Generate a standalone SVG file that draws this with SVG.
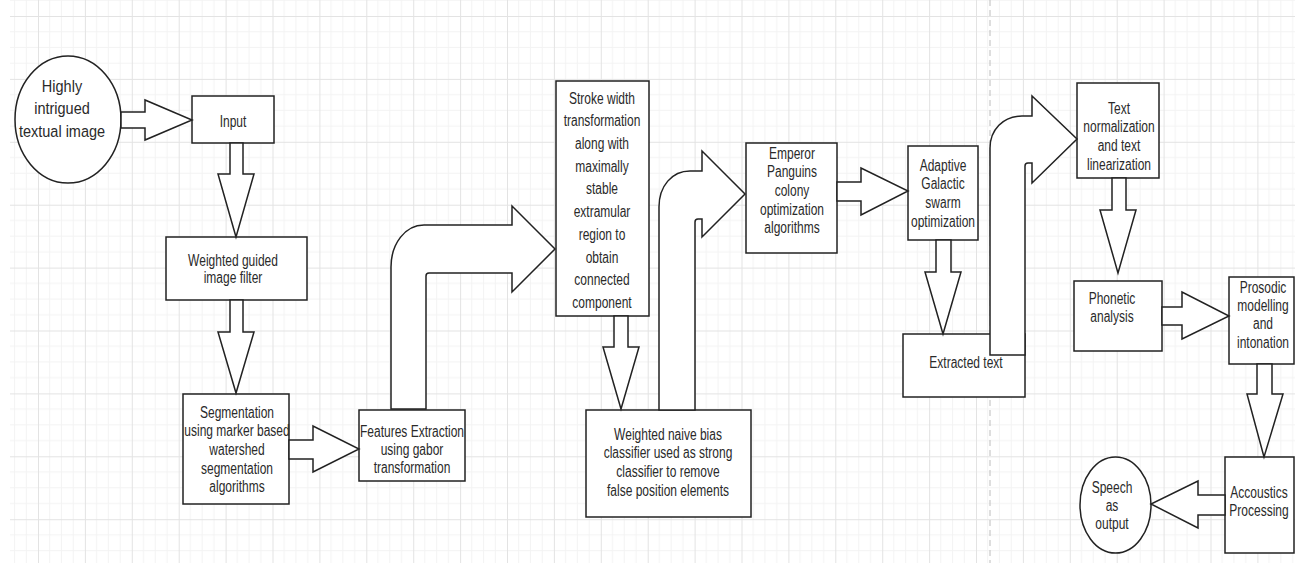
<svg xmlns="http://www.w3.org/2000/svg" width="1295" height="563" viewBox="0 0 1295 563">
<style>
.box{fill:#fff;stroke:#222;stroke-width:1.5}
.arr{fill:#fff;stroke:#222;stroke-width:1.5;stroke-linejoin:miter}
.t{font-family:"Liberation Sans",Arial,sans-serif;font-size:12px;fill:#2a2a2a;text-anchor:middle}
.tb{font-family:"Liberation Sans",Arial,sans-serif;font-size:14.5px;fill:#2a2a2a;text-anchor:middle}
</style>
<defs>
<pattern id="grid" patternUnits="userSpaceOnUse" x="38" y="16" width="46.9" height="62.9">
<path d="M11.7,0V62.9M23.45,0V62.9M35.2,0V62.9M0,15.7H46.9M0,31.45H46.9M0,47.2H46.9" stroke="#f3f3f3" stroke-width="1" fill="none"/>
<path d="M0.5,0V62.9M0,0.5H46.9" stroke="#e3e3e3" stroke-width="1" fill="none"/>
</pattern>
</defs>
<rect width="1295" height="563" fill="#fff"/>
<rect x="10" y="0" width="1285" height="563" fill="url(#grid)"/>
<line x1="990" y1="0" x2="990" y2="563" stroke="#bdbdbd" stroke-width="1" stroke-dasharray="6,4"/>

<g id="node-highly">
<ellipse class="box" cx="68" cy="119.5" rx="53" ry="63.5"/>
<text class="tb" transform="translate(62,92) scale(1,1.2)"><tspan x="0" dy="0">Highly</tspan><tspan x="0" dy="18.75">intrigued</tspan><tspan x="0" dy="18.75">textual image</tspan></text>
</g>
<g id="node-input">
<rect class="box" x="192" y="96" width="82" height="47"/>
<text class="t" transform="translate(233,126.5) scale(1,1.3)">Input</text>
</g>
<g id="node-weighted-guided">
<rect class="box" x="166" y="237" width="141" height="63"/>
<text class="t" transform="translate(233,265.5) scale(1,1.3)"><tspan x="0" dy="0">Weighted guided</tspan><tspan x="0" dy="13.85">image filter</tspan></text>
</g>
<g id="node-segmentation">
<rect class="box" x="183" y="394" width="106" height="110"/>
<text class="t" transform="translate(237,417.5) scale(1,1.3)"><tspan x="0" dy="0">Segmentation</tspan><tspan x="0" dy="14.4">using marker based</tspan><tspan x="0" dy="14.4">watershed</tspan><tspan x="0" dy="14.4">segmentation</tspan><tspan x="0" dy="14.4">algorithms</tspan></text>
</g>
<g id="node-features">
<rect class="box" x="359" y="410" width="106" height="71"/>
<text class="t" transform="translate(412,436.5) scale(1,1.3)"><tspan x="0" dy="0">Features Extraction</tspan><tspan x="0" dy="14.2">using gabor</tspan><tspan x="0" dy="14.2">transformation</tspan></text>
</g>
<g id="node-stroke">
<rect class="box" x="556" y="81" width="93" height="235"/>
<text class="t" transform="translate(602,103.5) scale(1,1.3)"><tspan x="0" dy="0">Stroke width</tspan><tspan x="0" dy="17.5">transformation</tspan><tspan x="0" dy="17.5">along with</tspan><tspan x="0" dy="17.5">maximally</tspan><tspan x="0" dy="17.5">stable</tspan><tspan x="0" dy="17.5">extramular</tspan><tspan x="0" dy="17.5">region to</tspan><tspan x="0" dy="17.5">obtain</tspan><tspan x="0" dy="17.5">connected</tspan><tspan x="0" dy="17.5">component</tspan></text>
</g>
<g id="node-naive">
<rect class="box" x="586" y="410" width="165" height="107"/>
<text class="t" transform="translate(668,439.5) scale(1,1.3)"><tspan x="0" dy="0">Weighted naive bias</tspan><tspan x="0" dy="14.6">classifier used as strong</tspan><tspan x="0" dy="14.6">classifier to remove</tspan><tspan x="0" dy="14.6">false position elements</tspan></text>
</g>
<g id="node-emperor">
<rect class="box" x="746" y="143" width="91" height="110"/>
<text class="t" transform="translate(792,158.5) scale(1,1.3)"><tspan x="0" dy="0">Emperor</tspan><tspan x="0" dy="14.4">Panguins</tspan><tspan x="0" dy="14.4">colony</tspan><tspan x="0" dy="14.4">optimization</tspan><tspan x="0" dy="14.4">algorithms</tspan></text>
</g>
<g id="node-adaptive">
<rect class="box" x="908" y="146" width="70" height="94"/>
<text class="t" transform="translate(943,170.5) scale(1,1.3)"><tspan x="0" dy="0">Adaptive</tspan><tspan x="0" dy="14.6">Galactic</tspan><tspan x="0" dy="14.6">swarm</tspan><tspan x="0" dy="14.6">optimization</tspan></text>
</g>
<g id="node-extracted">
<rect class="box" x="903" y="334" width="122" height="63"/>
<text class="t" transform="translate(966,367.5) scale(1,1.3)">Extracted text</text>
</g>
<g id="node-textnorm">
<rect class="box" x="1077" y="83" width="82" height="95"/>
<text class="t" transform="translate(1119,113.5) scale(1,1.3)"><tspan x="0" dy="0">Text</tspan><tspan x="0" dy="14.4">normalization</tspan><tspan x="0" dy="14.4">and text</tspan><tspan x="0" dy="14.4">linearization</tspan></text>
</g>
<g id="node-phonetic">
<rect class="box" x="1074" y="281" width="88" height="70"/>
<text class="t" transform="translate(1112,303.5) scale(1,1.3)"><tspan x="0" dy="0">Phonetic</tspan><tspan x="0" dy="14.6">analysis</tspan></text>
</g>
<g id="node-prosodic">
<rect class="box" x="1229" y="277" width="65" height="87"/>
<text class="t" transform="translate(1263,292.5) scale(1,1.3)"><tspan x="0" dy="0">Prosodic</tspan><tspan x="0" dy="14.2">modelling</tspan><tspan x="0" dy="14.2">and</tspan><tspan x="0" dy="14.2">intonation</tspan></text>
</g>
<g id="node-accoustics">
<rect class="box" x="1225" y="457" width="69" height="96"/>
<text class="t" transform="translate(1259,497.5) scale(1,1.3)"><tspan x="0" dy="0">Accoustics</tspan><tspan x="0" dy="14.6">Processing</tspan></text>
</g>
<g id="node-speech">
<ellipse class="box" cx="1115.5" cy="505" rx="35.5" ry="48"/>
<text class="t" transform="translate(1112,492.5) scale(1,1.3)"><tspan x="0" dy="0">Speech</tspan><tspan x="0" dy="14.2">as</tspan><tspan x="0" dy="14.2">output</tspan></text>
</g>

<g id="connectors">
<polygon class="arr" points="121,112 145,112 145,100 192,120 145,140 145,128 121,128"/>
<polygon class="arr" points="230,143 243,143 243,174 254,174 236,237 218,174 230,174"/>
<polygon class="arr" points="230,300 243,300 243,332 254,332 236,393 218,332 230,332"/>
<polygon class="arr" points="289,440 313,440 313,426 359,449 313,472 313,459 289,459"/>
<path class="arr" d="M391,409 V267 C391,244 405,225 424,225 H512 V206 L555,249 L512,292 V273 H429 Q426,273 426,276 V409 Z"/>
<polygon class="arr" points="614,316 628,316 628,347 639,347 621,409 603,347 614,347"/>
<path class="arr" d="M659,410 V207 C659,186 672,171 690,171 H702 V151 L745,194 L702,237 V219 H698 Q695,219 695,222 V410 Z"/>
<polygon class="arr" points="837,182 861,182 861,168 908,191 861,215 861,201 837,201"/>
<polygon class="arr" points="936,240 951,240 951,272 961,272 943,334 925,272 936,272"/>
<path class="arr" d="M990,355 V148 C990,130 1003,116 1022,116 H1032 V96 L1077,139 L1032,183 V163 H1028 Q1025,163 1025,166 V355 Z"/>
<polygon class="arr" points="1112,178 1126,178 1126,210 1136,210 1118,273 1100,210 1112,210"/>
<polygon class="arr" points="1162,307 1182,307 1182,292 1229,316 1182,339 1182,325 1162,325"/>
<polygon class="arr" points="1257,364 1272,364 1272,394 1283,394 1264,457 1247,394 1257,394"/>
<polygon class="arr" points="1225,495 1198,495 1198,481 1151,504 1198,528 1198,515 1225,515"/>
</g>
</svg>
